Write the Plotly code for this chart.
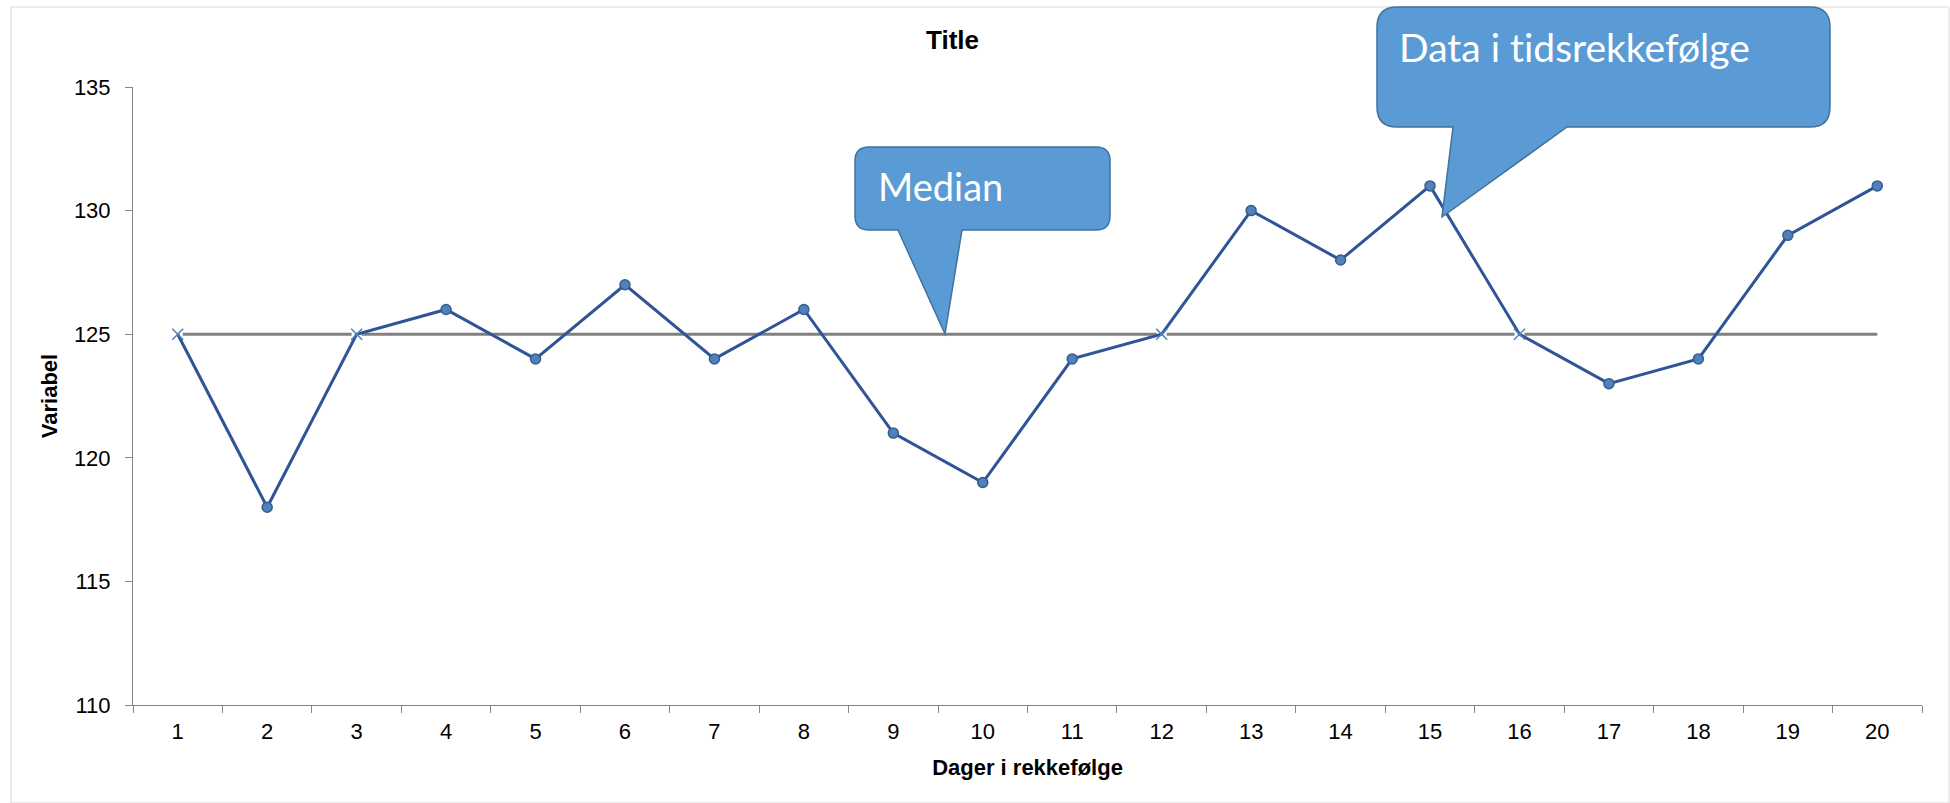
import numpy as np
import plotly.graph_objects as go

# Series data
days = [str(d) for d in range(1, 21)]
values = [125, 118, 125, 126, 124, 127, 124, 126, 121, 119,
          124, 125, 130, 128, 131, 125, 123, 124, 129, 131]
y_ticks = [110, 115, 120, 125, 130, 135]

chart_title = "Title"
x_title = "Dager i rekkefølge"
y_title = "Variabel"
callout_median = "Median"
callout_series = "Data i tidsrekkefølge"

median = float(np.median(values))
median_line = [median] * len(values)
on_median = [v == median for v in values]

W, H = 1950, 803
L, R, T, B = 133, 1922, 87, 705  # plot area in pixels

LINE_BLUE = "#2F5597"
MARK_BLUE = "#4F81BD"
MARK_EDGE = "#385D8A"
AXIS_GREY = "#868686"
CALLOUT_FILL = "#5B9BD5"
CALLOUT_EDGE = "#41719C"


def px(x, y):
    """Pixel position -> paper coordinates."""
    return (x - L) / (R - L), (B - y) / (B - T)


def callout_path(x0, y0, x1, y1, r, tail):
    """Rounded rectangle with a wedge tail on the bottom edge."""
    bl, br, tip = tail
    pts = [
        ("M", (x0 + r, y0)),
        ("L", (x1 - r, y0)),
        ("Q", (x1, y0), (x1, y0 + r)),
        ("L", (x1, y1 - r)),
        ("Q", (x1, y1), (x1 - r, y1)),
        ("L", (br, y1)),
        ("L", tip),
        ("L", (bl, y1)),
        ("L", (x0 + r, y1)),
        ("Q", (x0, y1), (x0, y1 - r)),
        ("L", (x0, y0 + r)),
        ("Q", (x0, y0), (x0 + r, y0)),
    ]
    out = []
    for cmd, *coords in pts:
        parts = []
        for (a, b) in coords:
            xp, yp = px(a, b)
            parts.append(f"{xp:.5f},{yp:.5f}")
        out.append(cmd + " ".join(parts))
    return " ".join(out) + " Z"


def plain(text):
    return f'<span style="font-variant-ligatures:none">{text}</span>'


fig = go.Figure()

# Median reference line
fig.add_trace(go.Scatter(
    x=days, y=median_line, mode="lines",
    line=dict(color="#808080", width=3), hoverinfo="skip", showlegend=False,
))

# White backing behind the cross markers sitting on the median
fig.add_trace(go.Scatter(
    x=[d for d, m in zip(days, on_median) if m],
    y=[v for v, m in zip(values, on_median) if m],
    mode="markers",
    marker=dict(symbol="square", size=10, color="white", line=dict(width=0)),
    hoverinfo="skip", showlegend=False,
))

# The measured series
fig.add_trace(go.Scatter(
    x=days, y=values, mode="lines+markers",
    line=dict(color=LINE_BLUE, width=3),
    marker=dict(
        symbol=["x-thin-open" if m else "circle" for m in on_median],
        size=[11 if m else 10 for m in on_median],
        color=MARK_BLUE,
        opacity=1,
        line=dict(color=[MARK_BLUE if m else MARK_EDGE for m in on_median], width=1.5),
    ),
    showlegend=False,
))

shapes = [
    # chart border
    dict(type="rect", xref="paper", yref="paper",
         x0=px(11, 0)[0], x1=px(1949, 0)[0], y0=px(0, 803)[1], y1=px(0, 7)[1],
         line=dict(color="#D9D9D9", width=1), fillcolor="rgba(0,0,0,0)", layer="below"),
    dict(type="path", xref="paper", yref="paper",
         path=callout_path(855, 147, 1110, 230, 14, (898, 962, (945, 334))),
         fillcolor=CALLOUT_FILL, line=dict(color=CALLOUT_EDGE, width=1.5)),
    dict(type="path", xref="paper", yref="paper",
         path=callout_path(1377, 7, 1830, 127, 20, (1453, 1567, (1442, 217))),
         fillcolor=CALLOUT_FILL, line=dict(color=CALLOUT_EDGE, width=1.5)),
]

annotations = [
    dict(text=plain(callout_median), xref="paper", yref="paper",
         x=px(876, 0)[0], y=px(0, 186)[1], xanchor="left", yanchor="middle",
         showarrow=False, font=dict(family="Lato", size=38, color="white")),
    dict(text=plain(callout_series), xref="paper", yref="paper",
         x=px(1397, 0)[0], y=px(0, 47)[1], xanchor="left", yanchor="middle",
         showarrow=False, font=dict(family="Lato", size=39, color="white")),
    dict(text=f"<b>{chart_title}</b>", xref="paper", yref="paper",
         x=px(952, 0)[0], y=px(0, 40)[1], xanchor="center", yanchor="middle",
         showarrow=False, font=dict(family="Liberation Sans", size=26, color="black")),
]

fig.update_layout(
    width=W, height=H,
    margin=dict(l=L, r=W - R, t=T, b=H - B),
    paper_bgcolor="white", plot_bgcolor="white",
    font=dict(family="Liberation Sans", size=22, color="black"),
    shapes=shapes, annotations=annotations,
    xaxis=dict(
        type="category", range=[-0.5, len(days) - 0.5],
        tickson="boundaries", ticks="outside", ticklen=7,
        tickcolor=AXIS_GREY, showline=True, linecolor=AXIS_GREY, linewidth=1,
        showgrid=False, zeroline=False,
        tickfont=dict(size=22), ticklabelstandoff=7,
        title=dict(text=f"<b>{x_title}</b>", font=dict(size=22), standoff=16),
    ),
    yaxis=dict(
        range=[110, 135], tickvals=y_ticks, ticks="outside", ticklen=7,
        tickcolor=AXIS_GREY, showline=True, linecolor=AXIS_GREY, linewidth=1,
        showgrid=False, zeroline=False,
        tickfont=dict(size=22), ticklabelstandoff=10,
        title=dict(text=f"<b>{y_title}</b>", font=dict(size=22), standoff=10),
    ),
)

fig.write_html("out.html")
